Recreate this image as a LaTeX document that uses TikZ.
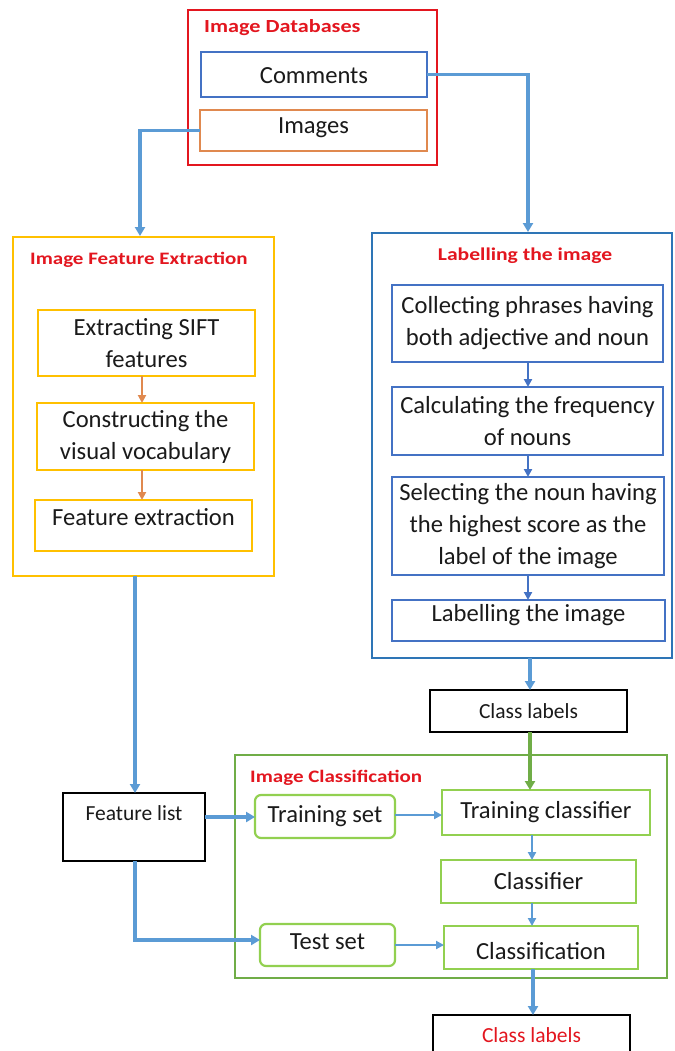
\documentclass[tikz,border=0pt]{standalone}
\usepackage{fontspec}
\setmainfont{Carlito}
\newfontfamily\hdfont[FakeStretch=1.2]{Carlito}
\usetikzlibrary{arrows.meta}
\definecolor{cRed}{HTML}{E3161F}
\definecolor{cBlueO}{HTML}{2E75B6}
\definecolor{cBlue}{HTML}{4472C4}
\definecolor{cYel}{HTML}{FFC000}
\definecolor{cOra}{HTML}{E0894F}
\definecolor{cGreen}{HTML}{70AD47}
\definecolor{cLGreen}{HTML}{92D050}
\definecolor{cArr}{HTML}{5B9BD5}
\definecolor{cTxt}{HTML}{1A1A1A}
\tikzset{
  x=1pt, y=-1pt,
  boxr/.style={draw, line width=2.2pt, inner sep=0pt, outer sep=0pt},
  txt/.style={inner sep=0pt, text=cTxt, font=\fontsize{24.6}{32}\selectfont, align=center},
  small/.style={inner sep=0pt, text=cTxt, font=\fontsize{21.5}{26}\selectfont, align=center},
  hd/.style={inner sep=0pt, anchor=west, text=cRed, font=\hdfont\bfseries\fontsize{17.5}{21}\selectfont},
  conn/.style={draw=cArr, line width=3.2pt, -{Triangle[length=9pt,width=10pt]}},
  connt/.style={draw=cArr, line width=2.2pt, -{Triangle[length=8pt,width=8pt]}},
}
\begin{document}
\begin{tikzpicture}
\clip (0,0) rectangle (674,1051);
\fill[white] (0,0) rectangle (674,1051);

% ---- Image Databases
\node[boxr, draw=cRed, minimum width=249pt, minimum height=155pt] (db) at (312.5,87.5) {};
\node[hd, font=\hdfont\bfseries\fontsize{18.5}{22}\selectfont] (dbt) at (204,28) {Image Databases};
\node[boxr, draw=cBlue, minimum width=226pt, minimum height=45pt] (com) at (314,74.5) {};
\node[txt] at (314,75.5) {Comments};
\node[boxr, draw=cOra, minimum width=227pt, minimum height=41pt] (img) at (313.5,130.5) {};
\node[txt] at (313.5,127.5) {Images};

% ---- Image Feature Extraction
\node[boxr, draw=cYel, minimum width=261pt, minimum height=339pt] (fe) at (143.5,406.5) {};
\node[hd] at (30,260) {Image Feature Extraction};
\node[boxr, draw=cYel, minimum width=217pt, minimum height=66pt] (f1) at (146.5,343) {};
\node[txt] at (f1) {Extracting SIFT\\features};
\node[boxr, draw=cYel, minimum width=217pt, minimum height=67pt] (f2) at (145.5,436.5) {};
\node[txt] at (f2) {Constructing the\\visual vocabulary};
\node[boxr, draw=cYel, minimum width=217pt, minimum height=51pt] (f3) at (143.5,525.5) {};
\node[txt] at (143.5,517) {Feature extraction};

% ---- Labelling the image
\node[boxr, draw=cBlueO, minimum width=300pt, minimum height=425pt] (lb) at (522,445.5) {};
\node[hd, anchor=center, font=\hdfont\bfseries\fontsize{18}{21}\selectfont] at (525,256) {Labelling the image};
\node[boxr, draw=cBlue, minimum width=271pt, minimum height=77pt] (l1) at (527.5,323.5) {};
\node[txt] at (l1) {Collecting phrases having\\both adjective and noun};
\node[boxr, draw=cBlue, minimum width=271pt, minimum height=68pt] (l2) at (527.5,421) {};
\node[txt] at (l2) {Calculating the frequency\\of nouns};
\node[boxr, draw=cBlue, minimum width=272pt, minimum height=98pt] (l3) at (528,526) {};
\node[txt] at (l3) {Selecting the noun having\\the highest score as the\\label of the image};
\node[boxr, draw=cBlue, minimum width=273pt, minimum height=41pt] (l4) at (528.5,620.5) {};
\node[txt] at (528.5,615) {Labelling the image};

% ---- Class labels (top)
\node[boxr, draw=black, minimum width=197pt, minimum height=42pt] (cl) at (528.5,711) {};
\node[small] at (cl) {Class labels};

% ---- Image Classification
\node[boxr, draw=cGreen, minimum width=432pt, minimum height=223pt] (ic) at (451,866.5) {};
\node[hd] at (250,778) {Image Classification};
\node[boxr, draw=black, minimum width=142pt, minimum height=68pt] (fl) at (134,827) {};
\node[small] at (134,813) {Feature list};
\node[boxr, draw=cLGreen, rounded corners=6pt, minimum width=140pt, minimum height=43pt] (ts) at (325,816.5) {};
\node[txt] at (ts) {Training set};
\node[boxr, draw=cLGreen, minimum width=208pt, minimum height=45pt] (tc) at (546,812.5) {};
\node[txt] at (tc) {Training classifier};
\node[boxr, draw=cLGreen, minimum width=195pt, minimum height=43pt] (cf) at (538.5,881.5) {};
\node[txt] at (cf) {Classifier};
\node[boxr, draw=cLGreen, rounded corners=6pt, minimum width=135pt, minimum height=42pt] (te) at (327.5,945) {};
\node[txt] at (327.5,942) {Test set};
\node[boxr, draw=cLGreen, minimum width=194pt, minimum height=43pt] (cn) at (541,947.5) {};
\node[txt] at (541,951) {Classification};
\node[boxr, draw=black, minimum width=197pt, minimum height=60pt] (cl2) at (531.5,1045) {};
\node[small, text=cRed] at (531.5,1035) {Class labels};

% ---- connectors
\draw[conn] (com.east) -- (528,74.5) -- (528,232);
\draw[conn] (img.west) -- (140,130.5) -- (140,236);
\draw[connt, draw=cOra] (f1.south -| 142,0) -- (f2.north -| 142,0);
\draw[connt, draw=cOra] (f2.south -| 142,0) -- (f3.north -| 142,0);
\draw[connt, draw=cBlue] (l1.south -| 528,0) -- (l2.north -| 528,0);
\draw[connt, draw=cBlue] (l2.south -| 528,0) -- (l3.north -| 528,0);
\draw[connt, draw=cBlue] (l3.south -| 528,0) -- (l4.north -| 528,0);
\draw[conn] (lb.south -| 530,0) -- (cl.north -| 530,0);
\draw[conn, draw=cGreen] (cl.south -| 530,0) -- (tc.north -| 530,0);
\draw[conn] (fe.south -| 135,0) -- (fl.north -| 135,0);
\draw[conn] (fl.east |- 0,817) -- (ts.west |- 0,817);
\draw[conn] (fl.south -| 135,0) -- (135,940) -- (te.west |- 0,940);
\draw[connt] (ts.east |- 0,815) -- (tc.west |- 0,815);
\draw[connt] (tc.south -| 532,0) -- (cf.north -| 532,0);
\draw[connt] (cf.south -| 532,0) -- (cn.north -| 532,0);
\draw[connt] (te.east |- 0,945) -- (cn.west |- 0,945);
\draw[conn] (cn.south -| 533,0) -- (cl2.north -| 533,0);
\end{tikzpicture}
\end{document}
